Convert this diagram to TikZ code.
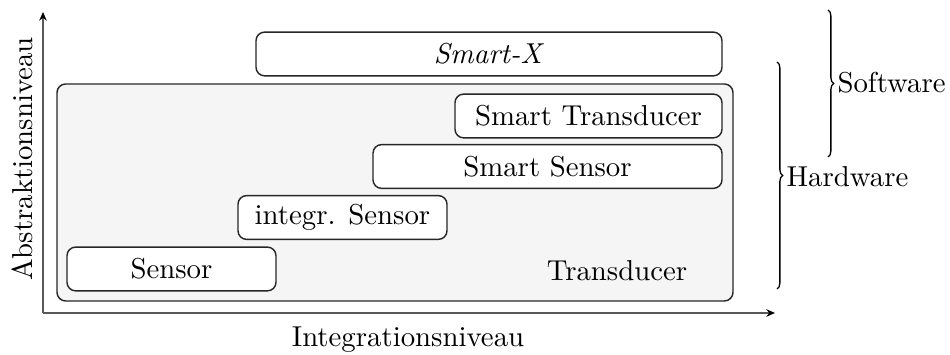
\documentclass[tikz,border=0pt]{standalone}
\usetikzlibrary{arrows.meta,decorations.pathreplacing}
\definecolor{framefill}{HTML}{F5F5F5}
\begin{document}
% one unit = one pixel of a 950 x 355 canvas, y pointing down
\begin{tikzpicture}[x=0.3472pt,y=-0.3472pt,
  levelbox/.style={draw=black!85,line width=0.5pt,rounded corners=3pt,fill=white,
    inner sep=0pt,minimum height=15.2pt},
  frame/.style={draw=black!85,line width=0.5pt,rounded corners=3pt,fill=framefill,
    inner sep=0pt},
  axis/.style={draw=black!65,line width=0.7pt,-{Stealth[length=3pt,width=2.6pt,black]}},
  curly/.style={decorate,decoration={brace,amplitude=2pt},line width=0.45pt},
  tag/.style={inner sep=0pt,anchor=base west}]
\useasboundingbox (0,0) rectangle (950,355);

% axes
\coordinate (o) at (43,313);
\coordinate (ytop) at (43,12);
\coordinate (xend) at (775,313);
\draw[axis] (o) -- (ytop);
\draw[axis] (o) -- (xend);
\node[rotate=90,inner sep=0pt] (ylab) at (22,159) {Abstraktionsniveau};
\node[inner sep=0pt,anchor=base] (xlab) at (408,347) {Integrationsniveau};

% hardware frame
\node[frame,minimum width={676*0.3472pt},minimum height={217*0.3472pt}] (trans) at (395,192.5) {};
\node[inner sep=0pt,anchor=base] (translab) at (617,281) {Transducer};

% levels
\node[levelbox,minimum width={466*0.3472pt}] (smartx) at (489,54) {\textit{Smart-X}};
\node[levelbox,minimum width={267*0.3472pt}] (stransd) at (588.5,116) {Smart Transducer};
\node[levelbox,minimum width={349*0.3472pt}] (ssensor) at (547.5,166.5) {Smart Sensor};
\node[levelbox,minimum width={209*0.3472pt}] (isensor) at (342.5,217.5) {integr. Sensor};
\node[levelbox,minimum width={209*0.3472pt}] (sensor) at (171.5,269) {Sensor};

% braces
\coordinate (swtop) at (828,10);
\coordinate (swbot) at (828,157);
\coordinate (hwtop) at (777,62);
\coordinate (hwbot) at (777,289);
\draw[curly] (swtop) -- (swbot);
\draw[curly] (hwtop) -- (hwbot);
\node[tag] (sw) at (837,93) {Software};
\node[tag] (hw) at (786,187) {Hardware};
\end{tikzpicture}
\end{document}
